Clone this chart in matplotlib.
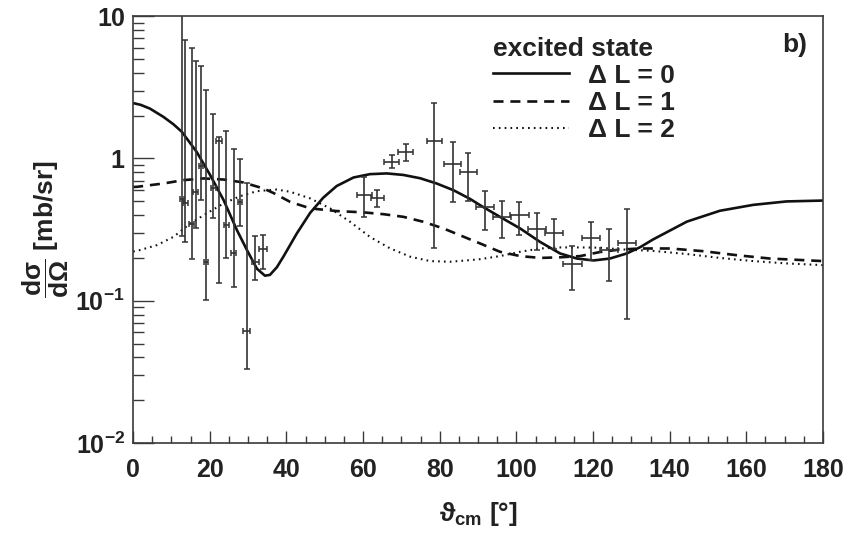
import matplotlib
matplotlib.use('Agg')
import matplotlib.pyplot as plt
import numpy as np

# Daten: gemessene Punkte (Winkel in Grad, Wirkungsquerschnitt in mb/sr)
theta = [12.7, 13.6, 15.3, 16.3, 17.7, 19.0, 20.9, 22.4, 24.3, 26.2, 27.9, 29.6, 31.9, 33.8,
         60.3, 63.7, 67.5, 71.1, 78.6, 83.4, 87.5, 91.8, 96.3, 100.8, 105.3, 109.9, 114.6,
         119.4, 124.2, 128.8]
sigma = [0.515, 0.487, 0.349, 0.577, 0.887, 0.188, 0.622, 1.32, 0.340, 0.215, 0.496, 0.0612,
         0.188, 0.231,
         0.552, 0.524, 0.947, 1.11, 1.33, 0.908, 0.805, 0.453, 0.385, 0.400, 0.319, 0.297,
         0.181, 0.277, 0.227, 0.255]
sigma_hi = [12.0, 6.85, 6.0, 4.83, 4.45, 3.02, 2.07, 1.42, 1.56, 1.16, 0.99, 0.667, 0.286, 0.292,
            0.743, 0.598, 1.055, 1.26, 2.46, 1.31, 1.10, 0.593, 0.504, 0.496, 0.411, 0.375,
            0.243, 0.359, 0.319, 0.441]
sigma_lo = [0.284, 0.26, 0.195, 0.326, 0.51, 0.102, 0.383, 0.134, 0.20, 0.124, 0.334, 0.0334,
            0.141, 0.167,
            0.385, 0.457, 0.851, 0.96, 0.233, 0.491, 0.501, 0.313, 0.274, 0.292, 0.229, 0.231,
            0.119, 0.193, 0.137, 0.074]
theta_err = [0.6, 0.6, 0.6, 0.6, 0.6, 0.6, 0.6, 0.8, 0.6, 0.6, 0.6, 1.0, 1.0, 1.0,
             2.0, 1.7, 2.0, 2.0, 2.0, 2.2, 2.3, 2.3, 2.3, 2.4, 2.3, 2.35, 2.4, 2.4, 2.4, 2.4]

# Rechnungen
th_L0 = [0, 2, 4.4, 7.9, 10.5, 12.7, 16.6, 20.1, 23.6, 27.1, 29.7, 32.3, 34.4, 35.7, 37.5,
         39.2, 42.7, 46.2, 49.6, 53.1, 57.5, 61.8, 66.2, 70.5, 74.9, 79.2, 83.6, 87.9, 90.5,
         95.7, 101.0, 106.2, 111.4, 115.8, 120.1, 124.4, 128.8, 132.3, 135.7, 144.5, 153.1,
         161.8, 170.5, 180]
cs_L0 = [2.45, 2.38, 2.24, 1.96, 1.74, 1.54, 1.11, 0.764, 0.51, 0.313, 0.227, 0.168, 0.150,
         0.152, 0.172, 0.204, 0.297, 0.415, 0.530, 0.640, 0.735, 0.776, 0.785, 0.766, 0.726,
         0.667, 0.598, 0.520, 0.470, 0.389, 0.322, 0.259, 0.215, 0.198, 0.192, 0.198, 0.215,
         0.238, 0.270, 0.360, 0.429, 0.472, 0.499, 0.506]

th_L1 = [0, 1, 7.9, 13.1, 18.3, 23.6, 28.8, 34.0, 36.6, 41.0, 46.2, 53.1, 60.1, 65.3, 70.5,
         75.7, 81.0, 87.9, 90.5, 95.7, 101.0, 106.2, 111.4, 116.6, 121.8, 127.0, 132.3,
         140.1, 148.8, 157.5, 166.2, 180]
cs_L1 = [0.63, 0.632, 0.667, 0.704, 0.724, 0.711, 0.678, 0.615, 0.572, 0.495, 0.446, 0.427,
         0.418, 0.406, 0.389, 0.359, 0.322, 0.270, 0.253, 0.221, 0.206, 0.200, 0.202, 0.206,
         0.220, 0.229, 0.233, 0.233, 0.223, 0.209, 0.198, 0.190]

th_L2 = [0, 1, 6.2, 10.5, 14.9, 19.2, 23.6, 27.9, 32.3, 35.7, 37.5, 41.0, 46.2, 51.4, 56.6,
         61.8, 67.1, 72.3, 77.5, 82.7, 87.9, 90.5, 95.7, 101.0, 106.2, 111.4, 116.6, 121.8,
         127.0, 135.7, 144.5, 153.1, 161.8, 170.5, 180]
cs_L2 = [0.222, 0.224, 0.246, 0.281, 0.349, 0.411, 0.483, 0.543, 0.589, 0.600, 0.605, 0.583,
         0.524, 0.446, 0.359, 0.281, 0.233, 0.204, 0.190, 0.188, 0.193, 0.196, 0.206, 0.221,
         0.233, 0.237, 0.237, 0.236, 0.230, 0.224, 0.213, 0.200, 0.190, 0.183, 0.178]

plt.rcParams['font.family'] = ['Liberation Sans', 'DejaVu Sans']
plt.rcParams['font.weight'] = 'bold'
plt.rcParams['axes.labelweight'] = 'bold'
plt.rcParams['mathtext.fontset'] = 'custom'
plt.rcParams['mathtext.rm'] = 'Liberation Sans:bold'
plt.rcParams['mathtext.it'] = 'Liberation Sans:bold'
plt.rcParams['mathtext.bf'] = 'Liberation Sans:bold'
plt.rcParams['mathtext.fallback'] = 'cm'

frame = '#3a3a3a'
txt = '#222222'
fig = plt.figure(figsize=(8.48, 5.39), dpi=100)
ax = fig.add_axes([0.157, 0.178, 0.8135, 0.792])

ax.plot(th_L0, cs_L0, color='#111111', lw=1.9, label='Δ L = 0')
ax.plot(th_L1, cs_L1, color='#111111', lw=1.9, dashes=(3.8, 2.6), label='Δ L = 1')
ax.plot(th_L2, cs_L2, color='#111111', lw=1.5, dashes=(0.8, 2.0), label='Δ L = 2')

sig = np.array(sigma)
yerr = [sig - np.array(sigma_lo), np.array(sigma_hi) - sig]
ax.errorbar(theta, sigma, yerr=yerr, xerr=theta_err, fmt='none', ecolor='#333333',
            elinewidth=1.2, capsize=2.5, capthick=1.1)

ax.set_yscale('log')
ax.set_xlim(0, 180)
ax.set_ylim(0.01, 10)
ax.set_xticks(np.arange(0, 181, 20))
ax.set_xticks(np.arange(0, 181, 5), minor=True)
ax.set_yticks([0.01, 0.1, 1, 10])
ax.set_yticklabels([r'$\mathregular{10^{-2}}$', r'$\mathregular{10^{-1}}$', '1', '10'])
ax.tick_params(axis='both', which='both', direction='in', colors=frame, labelcolor=txt,
               labelsize=18, width=1.0, top=False, right=False)
ax.tick_params(axis='y', which='major', length=15, pad=6)
ax.tick_params(axis='y', which='minor', length=8)
ax.tick_params(axis='x', which='major', length=9, pad=11)
ax.tick_params(axis='x', which='minor', length=5)
for s in ax.spines.values():
    s.set_color(frame)
    s.set_linewidth(1.2)

ax.set_xlabel(r'$\vartheta_{\mathrm{cm}}$ [°]', fontsize=19, labelpad=13, color=txt)
ax.set_ylabel(r'$\dfrac{\mathrm{d}\sigma}{\mathrm{d}\Omega}$ [mb/sr]', fontsize=19,
              labelpad=3, color=txt)

leg = ax.legend(loc='upper left', bbox_to_anchor=(0.487, 1.008), frameon=False,
                title='excited state', fontsize=19, title_fontsize=19,
                handlelength=2.9, handletextpad=0.7, labelspacing=0.12, alignment='left')
for t in leg.get_texts():
    t.set_color(txt)
leg.get_title().set_color(txt)
leg.get_title().set_fontweight('bold')

ax.text(0.977, 0.932, 'b)', transform=ax.transAxes, ha='right', va='center', fontsize=19,
        color=txt)

fig.savefig('out.png', dpi=100)
